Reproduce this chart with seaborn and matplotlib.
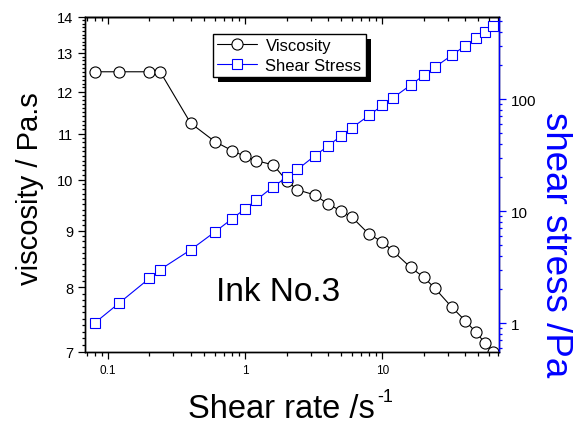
import matplotlib
matplotlib.use('Agg')
import matplotlib.pyplot as plt
import seaborn as sns
from matplotlib.ticker import FixedLocator, FixedFormatter, MultipleLocator, LogLocator, NullFormatter
from matplotlib.patches import Rectangle

sns.set_style('ticks')
plt.rcParams['font.family'] = ['Liberation Sans', 'DejaVu Sans']
plt.rcParams.update({'text.color': 'black', 'axes.labelcolor': 'black',
                     'xtick.color': 'black', 'ytick.color': 'black',
                     'axes.edgecolor': 'black'})

# data
shear_rate = [0.08, 0.12, 0.2, 0.24, 0.4, 0.6, 0.8, 1.0, 1.2, 1.6, 2.0, 2.4, 3.2, 4, 5, 6,
              8, 10, 12, 16, 20, 24, 32, 40, 48, 56, 64]
viscosity = [12.5, 12.5, 12.5, 12.5, 11.24, 10.82, 10.62, 10.49, 10.40, 10.31, 9.98, 9.79,
             9.69, 9.51, 9.37, 9.25, 8.93, 8.79, 8.62, 8.34, 8.17, 7.99, 7.68, 7.47, 7.29,
             7.13, 7.0]
shear_stress = [1.0, 1.5, 2.5, 3.0, 4.5, 6.5, 8.5, 10.5, 12.5, 16.5, 20, 23.5, 31, 38, 47,
                55.5, 71.5, 88, 103, 133, 163, 192, 246, 299, 350, 399, 448]
visc_ticks = [7, 8, 9, 10, 11, 12, 13, 14]
x_ticks = [0.1, 1, 10]
x_ticklabels = ['0.1', '1', '10']
stress_ticks = [1, 10, 100]
stress_ticklabels = ['1', '10', '100']

blue = '#0000FF'
W, H = 573, 427

fig = plt.figure(figsize=(W / 100, H / 100), dpi=100)
ax = fig.add_axes([85 / W, 1 - 353 / H, 414 / W, 335 / H])
ax2 = ax.twinx()

sns.lineplot(x=shear_rate, y=viscosity, ax=ax, color='black', lw=0.8, marker='o', ms=8,
             markerfacecolor='white', markeredgecolor='black', markeredgewidth=0.8,
             sort=False, estimator=None, label='Viscosity', legend=False)
sns.lineplot(x=shear_rate, y=shear_stress, ax=ax2, color=blue, lw=0.8, marker='s', ms=7.2,
             markerfacecolor='white', markeredgecolor=blue, markeredgewidth=0.8,
             sort=False, estimator=None, label='Shear Stress', legend=False)

ax.set_xscale('log')
ax.set_yscale('log')
ax2.set_yscale('log')
ax.set_xlim(0.068, 70.6)
ax.set_ylim(7, 14)
ax2.set_ylim(0.551, 540)

ax.xaxis.set_major_locator(FixedLocator(x_ticks))
ax.xaxis.set_major_formatter(FixedFormatter(x_ticklabels))
ax.xaxis.set_minor_locator(LogLocator(base=10, subs=range(2, 10)))
ax.xaxis.set_minor_formatter(NullFormatter())

ax.yaxis.set_major_locator(FixedLocator(visc_ticks))
ax.yaxis.set_major_formatter(FixedFormatter([str(v) for v in visc_ticks]))
ax.yaxis.set_minor_locator(MultipleLocator(0.1))
ax.yaxis.set_minor_formatter(NullFormatter())

ax2.yaxis.set_major_locator(FixedLocator(stress_ticks))
ax2.yaxis.set_major_formatter(FixedFormatter(stress_ticklabels))
ax2.yaxis.set_minor_locator(LogLocator(base=10, subs=range(2, 10)))
ax2.yaxis.set_minor_formatter(NullFormatter())

for a in (ax, ax2):
    for s in a.spines.values():
        s.set_linewidth(1.0)
        s.set_visible(True)
ax2.spines['right'].set_color(blue)

ax.tick_params(axis='x', which='both', direction='out', top=False, labelsize=8.5, width=0.9, pad=4)
ax.tick_params(axis='x', which='major', length=5)
ax.tick_params(axis='x', which='minor', length=3)
ax.tick_params(axis='y', which='both', direction='out', labelsize=10.5, width=0.9)
ax.tick_params(axis='y', which='major', length=5)
ax.tick_params(axis='y', which='minor', length=2.5)
ax2.tick_params(axis='y', which='both', direction='out', colors=blue, labelcolor='black',
                labelsize=11, width=0.9)
ax2.tick_params(axis='y', which='major', length=5)
ax2.tick_params(axis='y', which='minor', length=2.5)

# mirrored top ticks pointing inward
top = ax.secondary_xaxis('top')
top.xaxis.set_major_locator(FixedLocator(x_ticks))
top.xaxis.set_minor_locator(LogLocator(base=10, subs=range(2, 10)))
top.xaxis.set_minor_formatter(NullFormatter())
top.tick_params(axis='x', which='both', direction='in', labeltop=False, width=0.9)
top.tick_params(axis='x', which='major', length=5)
top.tick_params(axis='x', which='minor', length=3)
top.spines['top'].set_linewidth(1.0)

# axis titles
xl = fig.text(188 / W, 1 - 418 / H, 'Shear rate /s', fontsize=23.5, ha='left', va='baseline')
fig.text(30 / W, 1 - 189 / H, 'viscosity / Pa.s', fontsize=21, rotation=90,
         ha='center', va='center')
fig.text(556 / W, 1 - 245 / H, 'shear stress /Pa', fontsize=26.5, rotation=270,
         ha='center', va='center', color=blue)

ax.text(0.316, 0.155, 'Ink No.3', transform=ax.transAxes, fontsize=24, ha='left', va='baseline')

h1, l1 = ax.get_legend_handles_labels()
h2, l2 = ax2.get_legend_handles_labels()
leg = ax2.legend(h1 + h2, l1 + l2, loc='upper left', bbox_to_anchor=(0.309, 0.949),
                 borderaxespad=0, fancybox=False, framealpha=1, edgecolor='black',
                 fontsize=12, handlelength=2.4, borderpad=0.25, labelspacing=0.3,
                 handletextpad=0.5)
leg.get_frame().set_linewidth(1.0)
leg.set_zorder(6)

fig.canvas.draw()

# superscript "-1" after the x title
bx = xl.get_window_extent()
fig.text((bx.x1 + 2) / W, 1 - 402 / H, '-1', fontsize=13, ha='left', va='baseline')

# solid black drop shadow behind the legend
bb = leg.get_window_extent()
inv = ax2.transAxes.inverted()
(x0, y0), (x1, y1) = inv.transform([(bb.x0 + 5, bb.y0 - 5), (bb.x1 + 5, bb.y1 - 5)])
ax2.add_patch(Rectangle((x0, y0), x1 - x0, y1 - y0, transform=ax2.transAxes,
                        facecolor='black', edgecolor='none', zorder=5.5, clip_on=False))

fig.savefig('out.png', dpi=100)
